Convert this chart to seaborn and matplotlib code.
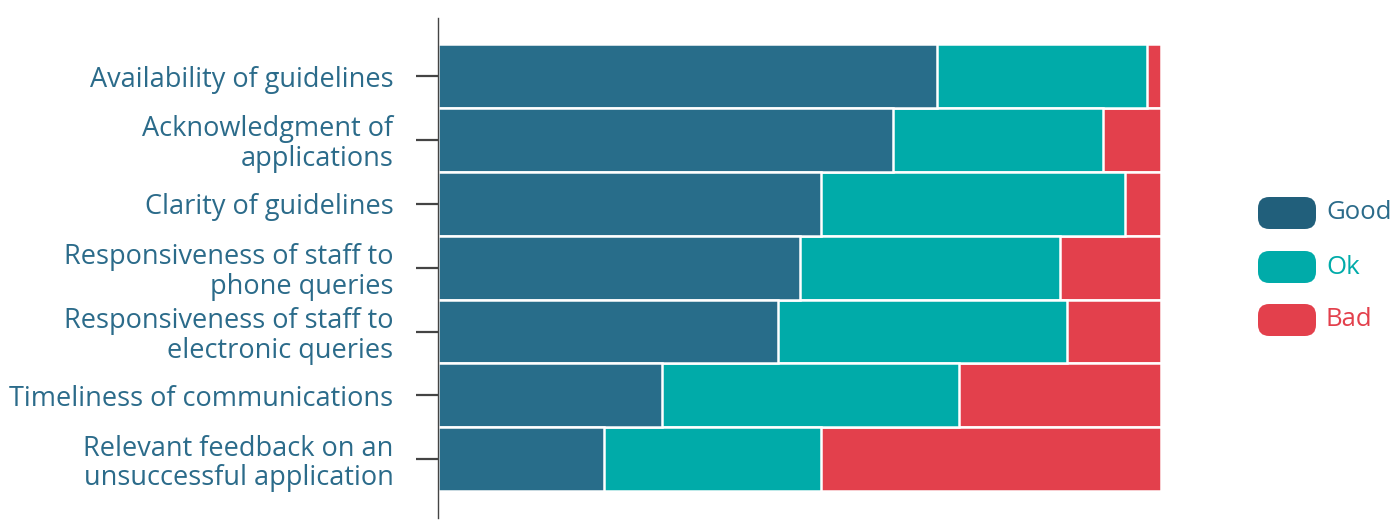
import matplotlib
matplotlib.use("Agg")
import matplotlib.pyplot as plt
import seaborn as sns
import pandas as pd
import numpy as np
from matplotlib.patches import FancyBboxPatch

categories = [
    "Availability of guidelines",
    "Acknowledgment of\napplications",
    "Clarity of guidelines",
    "Responsiveness of staff to\nphone queries",
    "Responsiveness of staff to\nelectronic queries",
    "Timeliness of communications",
    "Relevant feedback on an\nunsuccessful application",
]
series_names = ["Good", "Ok", "Bad"]
good = [69, 63, 53, 50, 47, 31, 23]
ok = [29, 29, 42, 36, 40, 41, 30]
bad = [2, 8, 5, 14, 13, 28, 47]

bar_colors = {"Good": "#286d8a", "Ok": "#00aba9", "Bad": "#e3404c"}
legend_colors = {"Good": "#215f7b", "Ok": "#00aba9", "Bad": "#e3404c"}
label_color = "#2b6b8a"

sns.set_theme(style="white")
plt.rcParams["font.family"] = ["Open Sans", "DejaVu Sans"]

df = pd.DataFrame({"category": categories, "Good": good, "Ok": ok, "Bad": bad})
df["cum_good"] = df["Good"]
df["cum_ok"] = df["Good"] + df["Ok"]
df["cum_bad"] = df["Good"] + df["Ok"] + df["Bad"]

fig = plt.figure(figsize=(14, 5.28), dpi=100)
ax = fig.add_axes([438 / 1400, 1 - 518 / 528, (1161 - 438) / 1400, 500 / 528])

for col, name in [("cum_bad", "Bad"), ("cum_ok", "Ok"), ("cum_good", "Good")]:
    sns.barplot(data=df, y="category", x=col, orient="h", color=bar_colors[name],
                saturation=1, width=1.0, edgecolor="white", linewidth=1.8, ax=ax)

ax.set_xlim(0, 100)
ax.set_ylim(6.92, -0.91)
ax.set_xlabel("")
ax.set_ylabel("")
ax.set_xticks([])
for s in ["top", "right", "bottom"]:
    ax.spines[s].set_visible(False)
ax.spines["left"].set_color("#444444")
ax.spines["left"].set_linewidth(1.0)
ax.tick_params(axis="y", which="major", left=True, length=16, width=1.6,
               color="#444444", pad=16, labelsize=19.5, labelcolor=label_color)
for t in ax.get_yticklabels():
    t.set_linespacing(1.08)

# legend
sw_x, sw_w, sw_h = 1258, 58, 32
ys = [213, 267, 320]
text_colors = {"Good": "#2b6b8a", "Ok": "#00aba9", "Bad": "#e3404c"}
for name, yc in zip(series_names, ys):
    x0 = sw_x / 1400
    y0 = 1 - (yc + sw_h / 2) / 528
    p = FancyBboxPatch((x0, y0), sw_w / 1400, sw_h / 528,
                       boxstyle="round,pad=0,rounding_size=0.008",
                       transform=fig.transFigure, facecolor=legend_colors[name],
                       edgecolor="none", mutation_aspect=1400 / 528)
    fig.patches.append(p)
    fig.text(1326 / 1400, 1 - yc / 528, name, color=text_colors[name],
             fontsize=18.5, va="center", ha="left")

fig.savefig("out.png", dpi=100, facecolor="white")
